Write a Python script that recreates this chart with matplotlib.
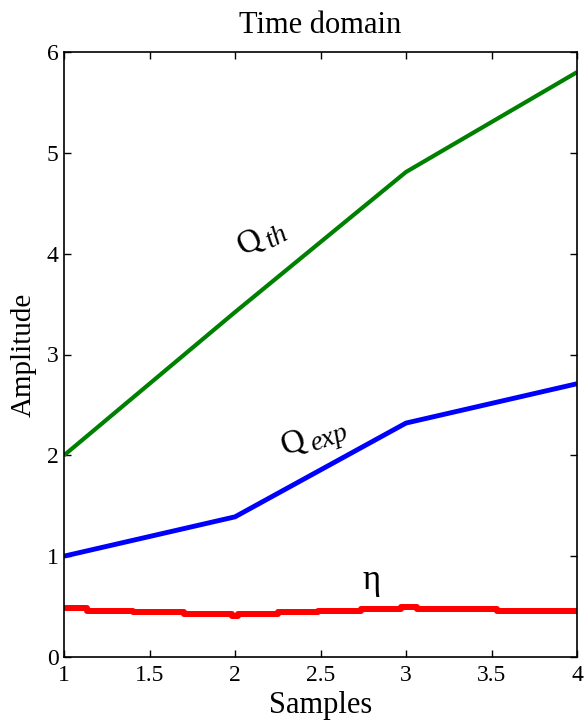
import numpy as np
import matplotlib
matplotlib.use("Agg")
import matplotlib.pyplot as plt

plt.rcParams['font.family'] = ['Liberation Serif', 'DejaVu Serif']

# Data
samples = [1, 2, 3, 4]
q_th = [2.0, 3.42, 4.81, 5.80]
q_exp = [1.0, 1.39, 2.32, 2.71]

eta_x = [1.0, 1.133, 1.405, 1.704, 1.985, 2.015, 2.253, 2.487, 2.737, 2.971, 3.062, 3.534, 4.0]
eta_y = [0.483, 0.460, 0.443, 0.423, 0.407, 0.423, 0.443, 0.460, 0.476, 0.499, 0.476, 0.460, 0.460]

xticks = [1, 1.5, 2, 2.5, 3, 3.5, 4]
xticklabels = ['1', '1.5', '2', '2.5', '3', '3.5', '4']
yticks = [0, 1, 2, 3, 4, 5, 6]

fig = plt.figure(figsize=(5.84, 7.22), dpi=100)
ax = fig.add_axes([64/584, 65/722, (577-64)/584, (657-52)/722])

ax.plot(samples, q_th, color=(0, 0.5, 0), lw=3.0, solid_capstyle='butt')
ax.plot(samples, q_exp, color=(0, 0, 1), lw=3.5, solid_capstyle='butt')
ax.plot(eta_x, eta_y, color=(1, 0, 0), lw=4.3, drawstyle='steps-post', solid_capstyle='butt')

ax.set_xlim(1, 4)
ax.set_ylim(0, 6)
ax.set_xticks(xticks)
ax.set_xticklabels(xticklabels)
ax.set_yticks(yticks)
ax.tick_params(direction='in', length=5, width=1, top=True, right=True,
               labelsize=17)
ax.tick_params(axis='x', pad=6)
ax.tick_params(axis='y', pad=4)
for s in ax.spines.values():
    s.set_linewidth(1.2)

ax.set_title('Time domain', fontsize=22, pad=14)
ax.set_xlabel('Samples', fontsize=22, labelpad=3)
ax.set_ylabel('Amplitude', fontsize=21, labelpad=7)


def sub_label(x, y, main, sub, rot, size=24, subsize=20, adv=20, drop=4):
    th = np.deg2rad(rot)
    ax.text(x, y, main, fontsize=size, rotation=rot, rotation_mode='anchor',
            ha='left', va='baseline')
    dx = adv * np.cos(th) + drop * np.sin(th)
    dy = adv * np.sin(th) - drop * np.cos(th)
    ax.annotate(sub, xy=(x, y), xytext=(dx, dy), textcoords='offset points',
                fontsize=subsize, style='italic', rotation=rot,
                rotation_mode='anchor', ha='left', va='baseline')


sub_label(2.05, 3.98, 'Q', 'th', 28)
sub_label(2.29, 2.0, 'Q', 'exp', 20)
ax.text(2.80, 0.76, 'η', fontsize=25, ha='center', va='center')

fig.savefig('out.png', dpi=100)
